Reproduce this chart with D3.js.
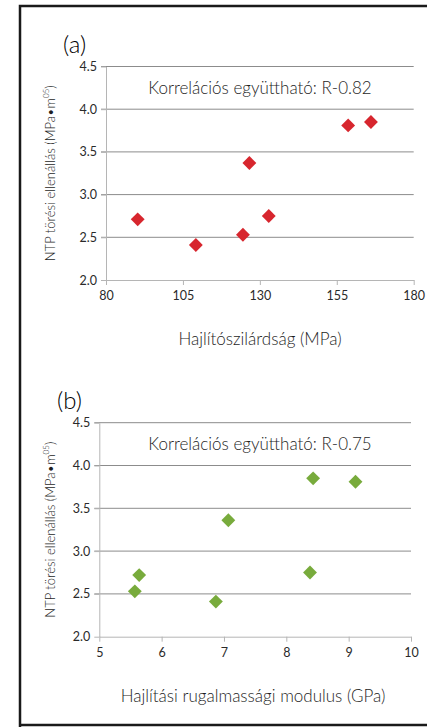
<!DOCTYPE html>
<html>
<head>
<meta charset="utf-8">
<script src="https://cdn.jsdelivr.net/npm/d3@7"></script>
<style>
  body { margin: 0; background: #fff; }
  svg { display: block; font-family: Lato, 'Noto Sans', sans-serif; font-weight: 300; }
</style>
</head>
<body>
<svg id="chart" width="427" height="727"></svg>
<script>
// panel (a): hajlítószilárdság vs NTP törési ellenállás
var strengthX = [90.3, 109.2, 124.5, 132.9, 126.6, 158.7, 166.1];
var strengthY = [2.71, 2.41, 2.53, 2.75, 3.37, 3.81, 3.85];
var strengthTicks = [80, 105, 130, 155, 180];

// panel (b): rugalmassági modulus vs NTP törési ellenállás
var modulusX = [7.07, 8.43, 9.11, 5.64, 5.57, 6.87, 8.38];
var modulusY = [3.36, 3.85, 3.81, 2.72, 2.53, 2.41, 2.75];
var modulusTicks = [5, 6, 7, 8, 9, 10];

var yTicks = [2.0, 2.5, 3.0, 3.5, 4.0, 4.5];

var svg = d3.select('#chart');

// outer frame
svg.append('path')
	.attr('d', 'M20,727 L20,6 L430,6 M20,725 L430,725')
	.attr('fill', 'none')
	.attr('stroke', '#1a1a1a')
	.attr('stroke-width', 2.5);

function drawPanel(opt) {
	var x = d3.scaleLinear().domain(opt.xDomain).range([opt.left, opt.right]);
	var y = d3.scaleLinear().domain([2.0, 4.5]).range([opt.bottom, opt.top]);
	var g = svg.append('g');

	// gridlines
	g.selectAll('.grid')
		.data(yTicks.slice(1))
		.enter()
		.append('line')
		.attr('x1', opt.left - 5)
		.attr('x2', opt.right)
		.attr('y1', function(d) { return y(d); })
		.attr('y2', function(d) { return y(d); })
		.attr('stroke', '#8c8c8c')
		.attr('stroke-width', 1);

	var xAxis = g.append('g')
		.attr('transform', 'translate(0,' + opt.bottom + ')')
		.call(d3.axisBottom(x).tickValues(opt.xTicks).tickSize(5).tickSizeOuter(0).tickPadding(6)
			.tickFormat(function(d) { return d; }));
	var yAxis = g.append('g')
		.attr('transform', 'translate(' + opt.left + ',0)')
		.call(d3.axisLeft(y).tickValues(yTicks).tickSize(5).tickSizeOuter(0).tickPadding(4)
			.tickFormat(d3.format('.1f')));

	[xAxis, yAxis].forEach(function(a) {
		a.select('.domain').attr('stroke', '#b5b5b5');
		a.selectAll('.tick line').attr('stroke', '#b5b5b5');
		a.selectAll('text').attr('fill', '#2a2a2a').style('font-size', '12.5px')
			.style('font-family', 'Lato, sans-serif').style('font-weight', 400);
	});

	g.selectAll('.pt')
		.data(opt.xs)
		.enter()
		.append('path')
		.attr('d', d3.symbol(d3.symbolSquare, 96))
		.attr('transform', function(d, i) {
			return 'translate(' + x(d) + ',' + y(opt.ys[i]) + ') rotate(45)';
		})
		.attr('fill', opt.color);

	g.append('text')
		.attr('x', opt.labelX)
		.attr('y', opt.top - 14)
		.attr('font-size', 24)
		.attr('fill', '#000')
		.text(opt.label);

	g.append('text')
		.attr('x', 260)
		.attr('y', y(4.25) + 6)
		.attr('text-anchor', 'middle')
		.attr('font-size', 17)
		.attr('fill', '#1e1e1e')
		.text(opt.note);

	g.append('text')
		.attr('x', opt.titleX)
		.attr('y', opt.bottom + 65)
		.attr('text-anchor', 'middle')
		.attr('font-size', 17)
		.attr('fill', '#1e1e1e')
		.text(opt.xTitle);

	var yt = g.append('text')
		.attr('transform', 'translate(55,' + (opt.top + opt.bottom) / 2 + ') rotate(-90)')
		.attr('text-anchor', 'middle')
		.attr('font-size', 13)
		.attr('fill', '#1e1e1e');
	yt.append('tspan').text('NTP törési ellenállás (MPa\u2022m');
	yt.append('tspan').attr('font-size', 8).attr('dy', -6).text('05');
	yt.append('tspan').attr('dy', 6).text(')');
}

drawPanel({
	left: 106, right: 413.7, top: 66.5, bottom: 280,
	xDomain: [80, 180], xTicks: strengthTicks,
	xs: strengthX, ys: strengthY, color: '#d7262e',
	label: '(a)', labelX: 63,
	note: 'Korrelációs együttható: R-0.82',
	xTitle: 'Hajlítószilárdság (MPa)', titleX: 260
});

drawPanel({
	left: 99.3, right: 411, top: 422.7, bottom: 636.7,
	xDomain: [5, 10], xTicks: modulusTicks,
	xs: modulusX, ys: modulusY, color: '#78ab3c',
	label: '(b)', labelX: 57,
	note: 'Korrelációs együttható: R-0.75',
	xTitle: 'Hajlítási rugalmassági modulus (GPa)', titleX: 253
});
</script>
</body>
</html>
